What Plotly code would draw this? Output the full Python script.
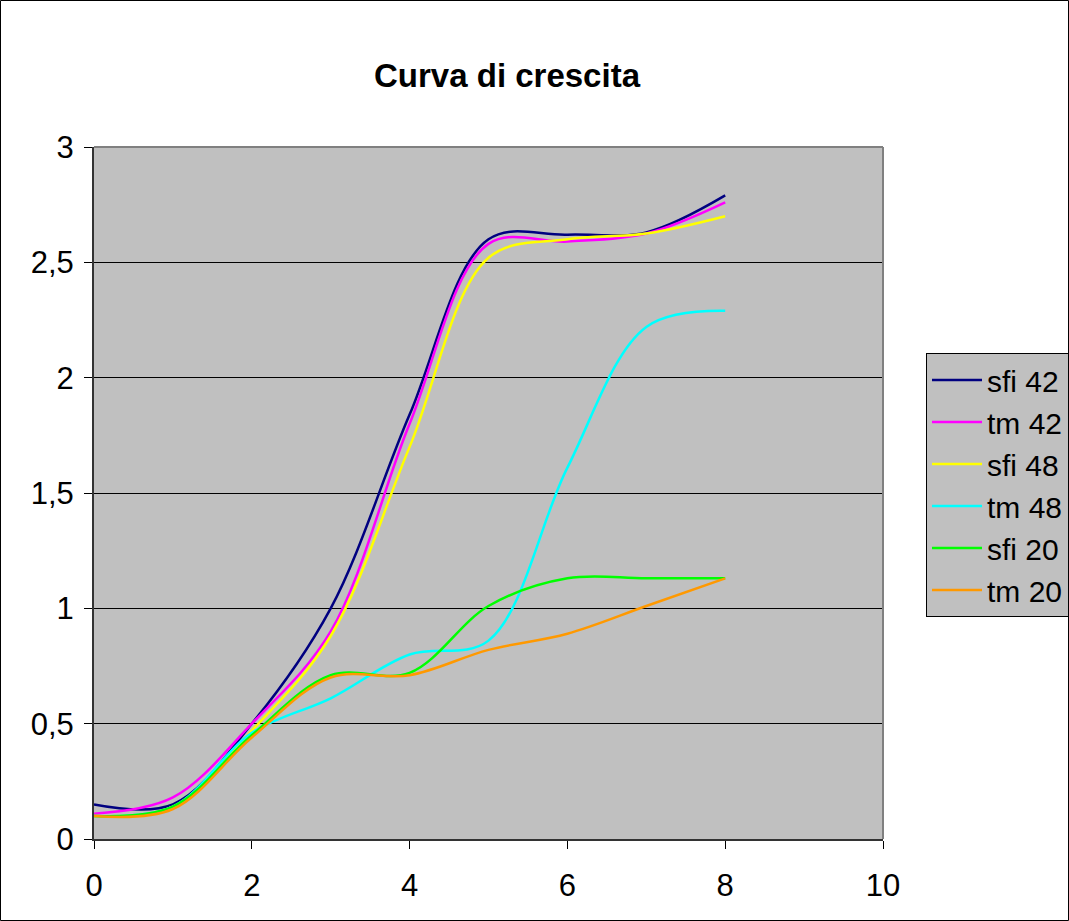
import plotly.graph_objects as go

# Data
x_vals = [0, 1, 2, 3, 4, 5, 6, 7, 8]
sfi_42 = [0.15, 0.15, 0.50, 1.00, 1.84, 2.60, 2.62, 2.63, 2.79]
tm_42 = [0.11, 0.18, 0.50, 0.90, 1.80, 2.58, 2.59, 2.625, 2.76]
sfi_48 = [0.10, 0.14, 0.47, 0.88, 1.70, 2.52, 2.60, 2.625, 2.70]
tm_48 = [0.10, 0.14, 0.46, 0.61, 0.80, 0.86, 1.61, 2.22, 2.29]
sfi_20 = [0.10, 0.14, 0.45, 0.71, 0.72, 1.01, 1.13, 1.13, 1.13]
tm_20 = [0.10, 0.13, 0.44, 0.70, 0.71, 0.82, 0.89, 1.01, 1.13]

series_names = ["sfi 42", "tm 42", "sfi 48", "tm 48", "sfi 20", "tm 20"]
series_values = [sfi_42, tm_42, sfi_48, tm_48, sfi_20, tm_20]
series_colors = ["#000080", "#FF00FF", "#FFFF00", "#00FFFF", "#00FF00", "#FF9900"]

x_ticks = [0, 2, 4, 6, 8, 10]
y_ticks = [0, 0.5, 1, 1.5, 2, 2.5, 3]

W, H = 1069, 921
ML, MR, MT, MB = 94, 186, 147, 82
PW, PH = W - ML - MR, H - MT - MB

FONT = "Liberation Sans, Arial, sans-serif"

fig = go.Figure()
for i, (name, vals, col) in enumerate(zip(series_names, series_values, series_colors)):
    fig.add_trace(go.Scatter(
        x=x_vals, y=vals, name=name, mode="lines",
        line=dict(color=col, width=2.5, shape="spline", smoothing=1.0),
        legendgroup=f"g{i}",
    ))

fig.update_layout(
    width=W, height=H,
    margin=dict(l=ML, r=MR, t=MT, b=MB, autoexpand=False),
    paper_bgcolor="white",
    plot_bgcolor="#C0C0C0",
    separators=",.",
    font=dict(family=FONT, size=30, color="black"),
    title=dict(text="<b>Curva di crescita</b>", x=507 / W, xanchor="center",
               y=1 - 75 / H, yanchor="middle", xref="container",
               font=dict(family=FONT, size=33, color="black")),
    showlegend=True,
    legend=dict(
        x=(926 - ML) / PW, xanchor="left",
        y=(H - MB - 353) / PH, yanchor="top",
        bgcolor="#C0C0C0", bordercolor="#000000", borderwidth=1,
        font=dict(family=FONT, size=30, color="black"),
        itemwidth=50, tracegroupgap=0,
    ),
    xaxis=dict(
        range=[0, 10], tickvals=x_ticks, showgrid=False, zeroline=False,
        showline=True, linecolor="#333333", linewidth=2,
        ticks="outside", ticklen=8, tickcolor="#000000", tickwidth=1,
        ticklabelstandoff=10,
        tickfont=dict(family=FONT, size=31), fixedrange=True,
    ),
    yaxis=dict(
        range=[0, 3], tickvals=y_ticks, showgrid=True, gridcolor="#000000", gridwidth=1,
        zeroline=False, showline=True, linecolor="#333333", linewidth=2,
        ticks="outside", ticklen=8, tickcolor="#000000", tickwidth=1,
        ticklabelstandoff=4,
        tickfont=dict(family=FONT, size=31), fixedrange=True,
    ),
    shapes=[
        # top and right plot-area borders (gray)
        dict(type="line", xref="paper", yref="paper", x0=0, x1=1, y0=1, y1=1,
             line=dict(color="#808080", width=2), layer="above"),
        dict(type="line", xref="paper", yref="paper", x0=1, x1=1, y0=0, y1=1,
             line=dict(color="#808080", width=2), layer="above"),
        # outer chart border
        dict(type="rect", xref="paper", yref="paper",
             x0=(0.5 - ML) / PW, x1=(W - 0.5 - ML) / PW,
             y0=-(MB - 0.5) / PH, y1=1 + (MT - 0.5) / PH,
             line=dict(color="#000000", width=1), layer="above"),
    ],
)

fig.write_html("out.html")
